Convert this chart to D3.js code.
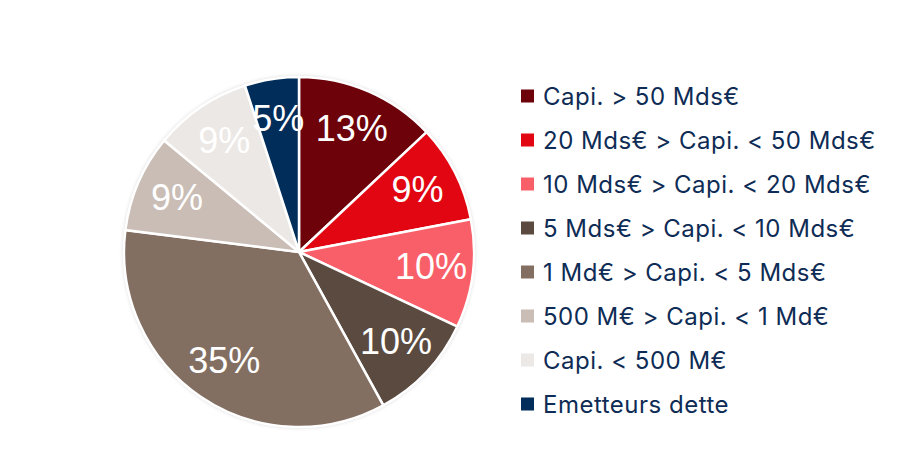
<!DOCTYPE html>
<html>
<head>
<meta charset="utf-8">
<script src="https://cdn.jsdelivr.net/npm/d3@7"></script>
<style>
  body { margin: 0; background: #fff; }
</style>
</head>
<body>
<div id="graphic"></div>
<script>
// categories, values (percent) and colours
var categories = [
  "Capi. > 50 Mds€",
  "20 Mds€ > Capi. < 50 Mds€",
  "10 Mds€ > Capi. < 20 Mds€",
  "5 Mds€ > Capi. < 10 Mds€",
  "1 Md€ > Capi. < 5 Mds€",
  "500 M€ > Capi. < 1 Md€",
  "Capi. < 500 M€",
  "Emetteurs dette"
];
var values = [13, 9, 10, 10, 35, 9, 9, 5];
var colors = ["#6E020A", "#E20613", "#F95F69", "#5A4A40", "#836F62", "#C9BDB5", "#ECE8E5", "#002D5A"];

var w = 914, h = 450;
var cx = 299, cy = 252, radius = 175;

var svg = d3.select("#graphic")
    .append("svg")
    .attr("width", w)
    .attr("height", h);

var defs = svg.append("defs");
var f = defs.append("filter").attr("id", "shadow")
    .attr("x", "-10%").attr("y", "-10%").attr("width", "120%").attr("height", "120%");
f.append("feDropShadow").attr("dx", 0).attr("dy", 0).attr("stdDeviation", 2)
    .attr("flood-color", "#000").attr("flood-opacity", 0.25);

var data = categories.map(function(c, i){ return { name: c, value: values[i], color: colors[i] }; });

var pie = d3.pie().sort(null).value(function(d){ return d.value; });
var arc = d3.arc().innerRadius(0).outerRadius(radius);
var labelArc = d3.arc().innerRadius(radius * 0.76).outerRadius(radius * 0.76);

var g = svg.append("g").attr("transform", "translate(" + cx + "," + cy + ")");

g.append("circle").attr("r", radius).attr("fill", "#fff").attr("filter", "url(#shadow)");

var arcs = pie(data);

g.selectAll("path.slice")
    .data(arcs)
    .enter()
    .append("path")
    .attr("class", "slice")
    .attr("d", arc)
    .attr("fill", function(d){ return d.data.color; })
    .attr("stroke", "#fff")
    .attr("stroke-width", 2.5);

g.selectAll("text.lbl")
    .data(arcs)
    .enter()
    .append("text")
    .attr("class", "lbl")
    .attr("transform", function(d){ return "translate(" + labelArc.centroid(d) + ")"; })
    .attr("text-anchor", "middle")
    .attr("dy", "0.3em")
    .attr("fill", "#fff")
    .attr("font-family", "Liberation Sans, Arial, sans-serif")
    .attr("font-size", 36)
    .text(function(d){ return d.data.value + "%"; });

// legend
var legend = svg.append("g").attr("transform", "translate(521, 96)");
var rows = legend.selectAll("g.row")
    .data(data)
    .enter()
    .append("g")
    .attr("class", "row")
    .attr("transform", function(d, i){ return "translate(0," + (i * 44) + ")"; });

rows.append("rect")
    .attr("x", 0).attr("y", -6.5)
    .attr("width", 13).attr("height", 13)
    .attr("fill", function(d){ return d.color; });

rows.append("text")
    .attr("x", 22)
    .attr("dy", "0.36em")
    .attr("fill", "#0E2C55")
    .attr("font-family", "Inter, sans-serif")
    .attr("font-size", 24)
    .attr("letter-spacing", 0.5)
    .text(function(d){ return d.name; });
</script>
</body>
</html>
